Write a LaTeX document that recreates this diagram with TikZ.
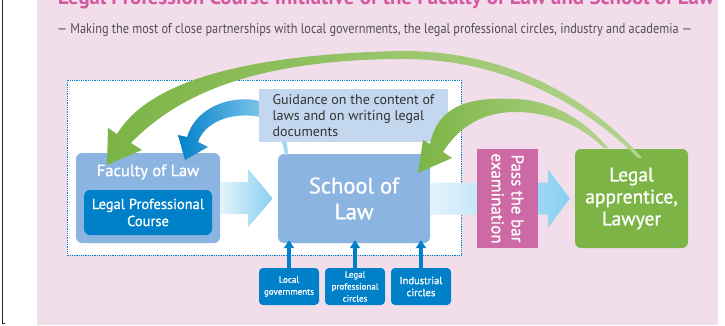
\documentclass[tikz,border=0pt]{standalone}
\usepackage{fontspec}
\setmainfont{PT Sans}
\newfontfamily\moyen{PT Sans}[FakeBold=0.9]
\usepackage{graphicx}
\usetikzlibrary{arrows.meta,positioning,calc}
\definecolor{fond}{RGB}{242,222,235}
\definecolor{rose}{RGB}{212,88,160}
\definecolor{gris}{RGB}{80,80,80}
\definecolor{bleu}{RGB}{0,128,200}
\definecolor{bleuboite}{RGB}{139,180,225}
\definecolor{bleupale}{RGB}{195,215,238}
\definecolor{bleuciel}{RGB}{165,218,245}
\definecolor{ciel}{RGB}{135,208,240}
\definecolor{cielclair}{RGB}{228,243,252}
\definecolor{vert}{RGB}{124,180,70}
\definecolor{vertpale}{RGB}{178,212,140}
\definecolor{mauve}{RGB}{205,105,165}
\newcommand{\flechelarge}[3]{%
  \shade[left color=cielclair,right color=ciel] ($(#1.east)+(0,-16)$) -- ++(#3,0) -- ++(0,-13)
  -- ($(#2.west)+(-5,0)$) -- ($(#1.east)+(#3,29)$) -- ++(0,-13) -- ($(#1.east)+(0,16)$) -- cycle;}

\begin{document}
\begin{tikzpicture}[x=1pt,y=-1pt,
  boite/.style={rounded corners=6pt,inner sep=0pt,align=center,text=white},
  petite/.style={fill=bleu,rounded corners=4pt,minimum width=60pt,minimum height=37pt,
    inner sep=0pt,align=center,text=white},
  montee/.style={-{Triangle[width=10pt,length=8pt]},line width=3.5pt,bleu,shorten >=-3pt}]
  %% fond
  \useasboundingbox (0,0) rectangle (725,326);
  \draw[line width=1pt,black!85] (2.5,0) -- (2.5,323.5) -- (5,323.5);
  \fill[fond] (37,0) rectangle (718,325);

  %% titre et sous-titre
  \node[anchor=base,inner sep=0pt,text=rose] (titre) at (386,5)
    {\resizebox{656pt}{15pt}{\bfseries Legal Profession Course Initiative of the Faculty of Law and School of Law}};
  \node[anchor=base,inner sep=0pt,text=gris] (soustitre) at (374.5,34)
    {\resizebox{635pt}{10pt}{— Making the most of close partnerships with local governments, the legal professional circles, industry and academia —}};

  %% cadre pointillé
  \draw[bleu,densely dotted,line width=0.8pt,fill=white] (67,80) rectangle (461,255);

  %% faculté
  \node[boite,fill=bleuboite,minimum width=144pt,minimum height=90pt] (fac) at (148,198) {};
  \node[text=white,font=\moyen\fontsize{16.5}{18}\selectfont] (factitre) at (148,172) {Faculty of Law};
  \node[boite,fill=bleu,minimum width=128pt,minimum height=45pt,font=\moyen\fontsize{14.5}{17}\selectfont]
    (cours) at (148,212.5) {Legal Professional\\Course};

  %% école
  \node[boite,fill=bleuboite,minimum width=152pt,minimum height=89pt,font=\moyen\fontsize{22.5}{26}\selectfont]
    (ecole) at (354,198.5) {School of\\Law};
  \node[boite,fill=vert,minimum width=113pt,minimum height=99pt,font=\moyen\fontsize{19.5}{22}\selectfont]
    (avocat) at (631.5,198.5) {Legal\\apprentice,\\Lawyer};

  %% flèches larges
  \flechelarge{fac}{ecole}{28}
  \flechelarge{ecole}{avocat}{118}

  %% examen
  \node[fill=mauve,minimum width=61pt,minimum height=99pt,inner sep=0pt] (examen) at (507.5,198.5) {};
  \node[rotate=-90,text=white,align=center,inner sep=0pt,font=\moyen\fontsize{17}{20}\selectfont]
    (examentxt) at (examen.center) {Pass the bar\\examination};

  %% flèche bleue courbe
  \shade[left color=bleu,right color=bleuciel] (187,137) .. controls (195,110) and (225,96) .. (255,100)
    .. controls (278,104) and (287,130) .. (288,155) -- (285,155) .. controls (282,135) and (273,118) .. (255,116)
    .. controls (230,113) and (205,122) .. (198,142) -- (208,147) -- (185,160) -- (178,135) -- cycle;
  \node[fill=bleupale,minimum width=189pt,minimum height=53pt,inner sep=0pt,align=left,
    text=black!80,font=\fontsize{14}{16}\selectfont]
    (conseil) at (353.5,115.5) {Guidance on the content of\\laws and on writing legal\\documents};

  %% flèches vertes
  \shade[left color=vert,right color=vertpale] (117,134) .. controls (145,88) and (225,55) .. (400,51)
    .. controls (520,50) and (600,110) .. (642,158) -- (638,158) .. controls (595,115) and (515,58) .. (400,59)
    .. controls (260,60) and (180,92) .. (131,143) -- (142,150) -- (107,165) -- (108,128) -- cycle;
  \shade[left color=vert,right color=vertpale] (430,144) .. controls (438,105) and (470,97) .. (513,99)
    .. controls (550,99) and (585,120) .. (608,148) -- (604,148) .. controls (580,125) and (550,112) .. (515,112)
    .. controls (485,112) and (460,125) .. (443,152) -- (452,158) -- (418,173) -- (423,140) -- cycle;

  %% partenaires
  \foreach \i/\x/\t/\s in {loc/289/{Local\\governments}/9, pro/355/{Legal\\professional\\circles}/9,
    ind/421/{Industrial\\circles}/10.5}{
    \node[petite,font=\moyen\fontsize{\s}{12}\selectfont] (\i) at (\x,286.5) {\t};
    \draw[montee] (\i.north) -- (\i.north |- ecole.south);
  }
\end{tikzpicture}
\end{document}
